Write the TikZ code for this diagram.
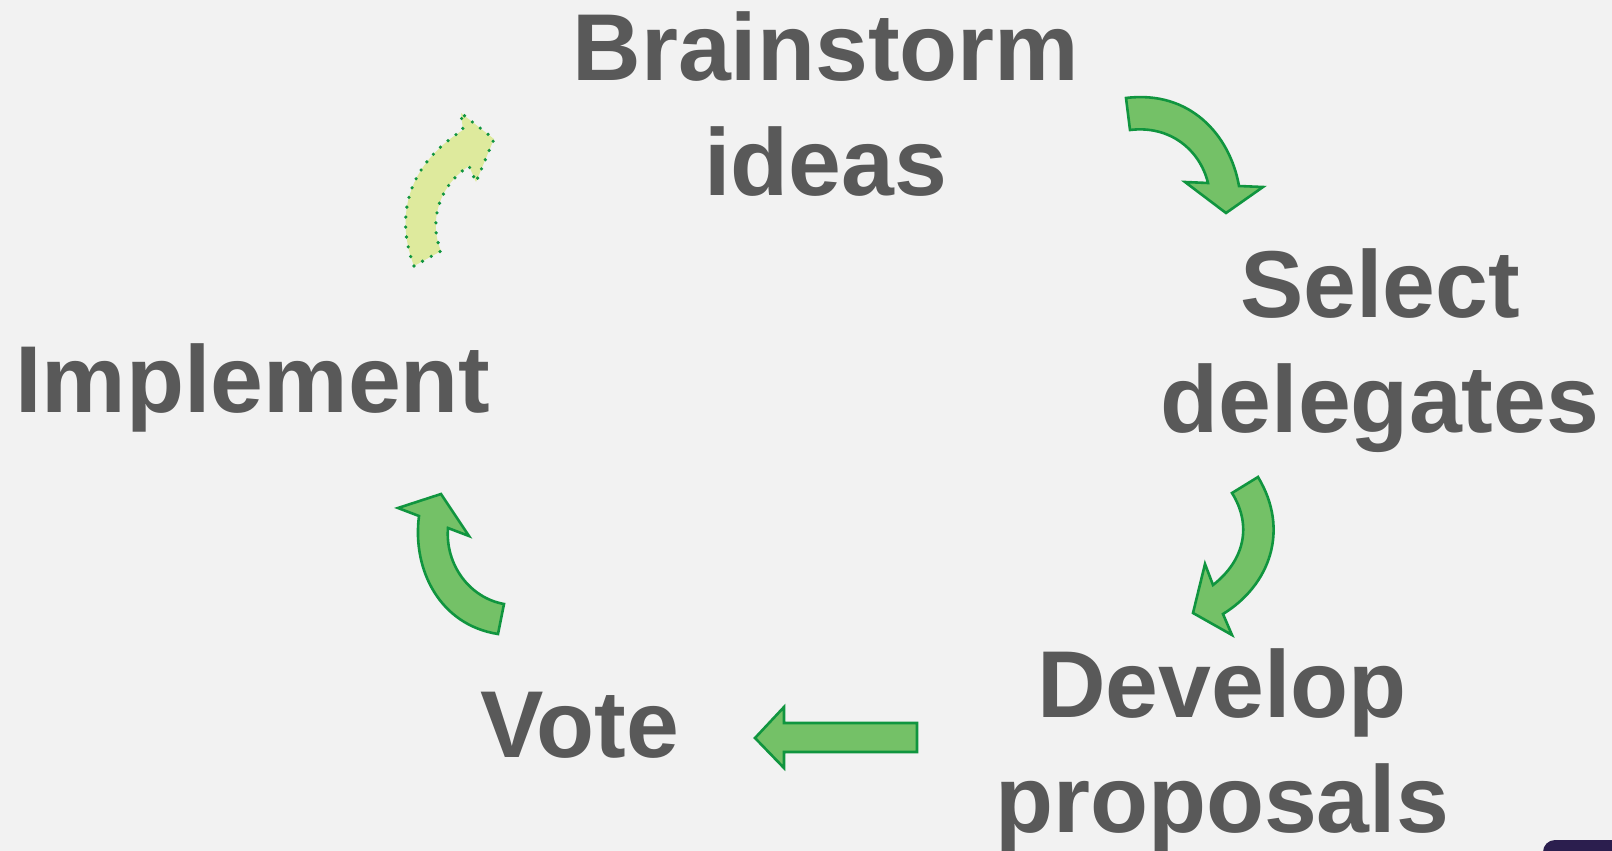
\documentclass[tikz,border=0pt]{standalone}
\usepackage{fontspec}
\setmainfont{Liberation Sans}
\definecolor{bgc}{HTML}{F2F2F2}
\definecolor{txtc}{HTML}{595959}
\definecolor{arrfill}{HTML}{74C167}
\definecolor{arrline}{HTML}{10953F}
\definecolor{ghostfill}{HTML}{DEEA9D}
\definecolor{cornerc}{HTML}{2B1E4E}
\begin{document}
\begin{tikzpicture}[x=1pt,y=-1pt,
  lbl/.style={text=txtc,font=\fontsize{95}{115}\selectfont\bfseries,align=center,inner sep=0pt,anchor=base},
  blockarrow/.style={fill=arrfill,draw=arrline,line width=2.6pt,line join=miter},
  ghostarrow/.style={fill=ghostfill,draw=arrline,line width=3.6pt,dash pattern=on 0pt off 10pt,line cap=round}]
\useasboundingbox (0,0) rectangle (1612,851);
\fill[bgc] (0,0) rectangle (1612,851);
\begin{scope}
\clip (0,0) rectangle (1612,851);
\fill[cornerc,rounded corners=12pt] (1543,840) rectangle (1660,900);
\end{scope}
% labels (base anchor = baseline of the last line)
\node[lbl] (brain) at (826,195) {Brainstorm\\ideas};
\node[lbl] (select) at (1380,432) {Select\\delegates};
\node[lbl] (develop) at (1222,832) {Develop\\proposals};
\node[lbl] (vote) at (580,757) {Vote};
\node[lbl] (implement) at (253,412) {Implement};
% arrow brainstorm -> select
\draw[blockarrow] (1126,98) .. controls (1190,90) and (1230,135) .. (1239,186)
  -- (1263,187) -- (1226,213) -- (1185,182) -- (1208,183)
  .. controls (1200,150) and (1170,125) .. (1130,130) -- cycle;
% arrow select -> develop
\draw[blockarrow] (1258,477) .. controls (1290,530) and (1270,585) .. (1223,614)
  -- (1232,635) -- (1193,613) -- (1205,564) -- (1213,585)
  .. controls (1245,560) and (1252,525) .. (1232,493) -- cycle;
% arrow develop -> vote
\draw[blockarrow] (917,723) -- (784,723) -- (784,707) -- (755,738) -- (784,768) -- (784,752) -- (917,752) -- cycle;
% arrow vote -> implement
\draw[blockarrow] (498,634) .. controls (440,625) and (412,570) .. (419,516)
  -- (398,508) -- (441,494) -- (469,536) -- (448,528)
  .. controls (445,565) and (470,598) .. (504,604) -- cycle;
% ghost arrow implement -> brainstorm
\draw[ghostarrow] (414,266) .. controls (398,225) and (400,170) .. (463,130)
  -- (461,113) -- (494,139) -- (476,182) -- (469,166)
  .. controls (440,185) and (428,220) .. (441,251) -- cycle;
\end{tikzpicture}
\end{document}
